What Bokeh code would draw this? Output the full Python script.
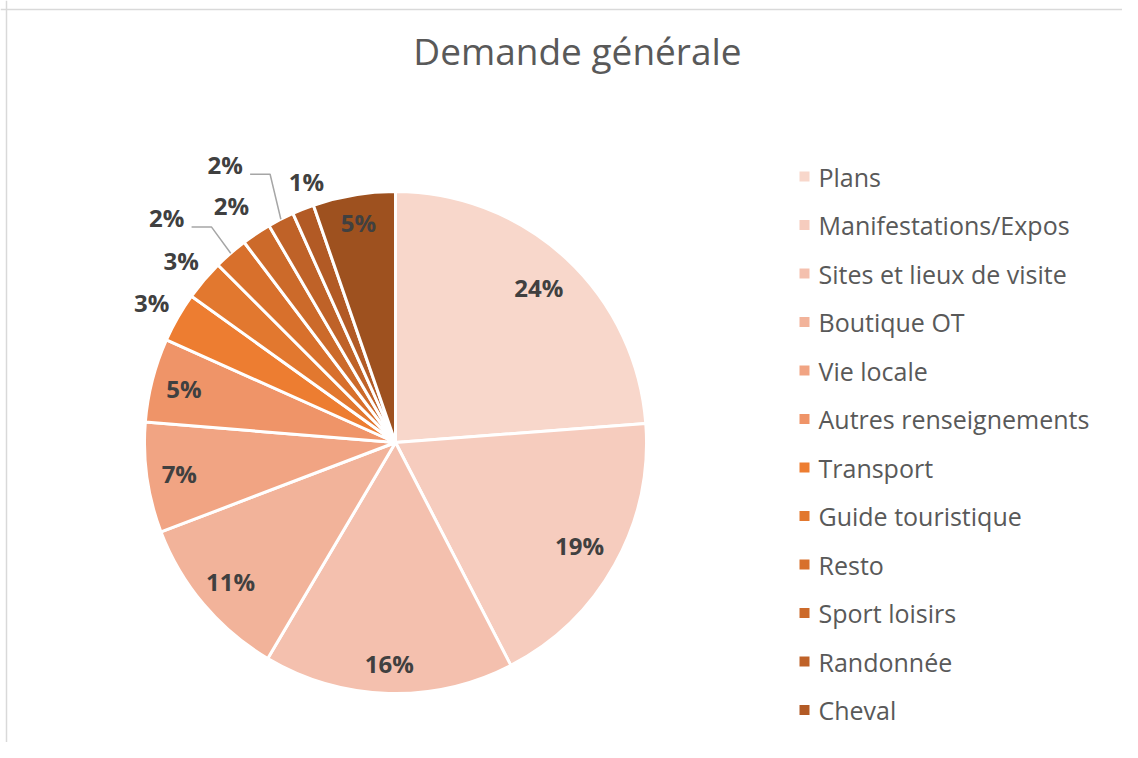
import math
from bokeh.plotting import figure
from bokeh.models import Range1d, Span, ColumnDataSource
from bokeh.core.properties import value
from bokeh.embed import file_html
from bokeh.resources import INLINE

# ---------------- data ----------------
title_text = "Demande générale"
categories = ["Plans", "Manifestations/Expos", "Sites et lieux de visite", "Boutique OT",
              "Vie locale", "Autres renseignements", "Transport", "Guide touristique",
              "Resto", "Sport loisirs", "Randonnée", "Cheval", "Autres"]
shares = [23.8, 18.6, 16.1, 10.7, 7.1, 5.4, 3.2, 2.6, 2.2, 1.9, 1.7, 1.4, 5.3]
colors = ["#F8D7CB", "#F6CCBE", "#F4C0AE", "#F2B39A", "#F1A483", "#EF9468",
          "#ED7D31", "#E2782F", "#D8702C", "#CC6A2A", "#BF6228", "#B25A25", "#9E511F"]
legend_count = 12  # entries visible in legend

# ---------------- label layout (style) ----------------
# (radius factor, angle offset in degrees, leader line)
label_style = [(0.84, 0, False), (0.84, 0, False), (0.88, 0, False), (0.86, 0, False),
               (0.87, 0, False), (0.87, 0, False), (1.12, 0, False), (1.12, 0, False),
               (1.28, -4.4, True), (1.15, -1, False), (1.30, -4.3, True), (1.10, 2.8, False),
               (0.89, 0, False)]

W, H = 1122, 742
FONT = "Open Sans"
def sx(x):
    return x
def sy(y):
    return H - y

cx, cy, R = sx(395), sy(442), 251

p = figure(width=W, height=H, x_range=Range1d(0, W), y_range=Range1d(0, H),
           min_border=0, toolbar_location=None, output_backend="svg",
           x_axis_location=None, y_axis_location=None)
p.grid.visible = False
p.outline_line_color = None
p.background_fill_color = "white"
p.border_fill_color = "white"

# chart border (top & left visible)
p.add_layout(Span(location=sy(9), dimension="width", line_color="#D9D9D9", line_width=1.5))
p.add_layout(Span(location=sx(6), dimension="height", line_color="#D9D9D9", line_width=1.5))

total = sum(shares)
starts, ends, mids = [], [], []
c = 0.0
for v in shares:
    f0 = c / total
    c += v
    f1 = c / total
    starts.append(math.pi / 2 - 2 * math.pi * f0)
    ends.append(math.pi / 2 - 2 * math.pi * f1)
    mids.append((f0 + f1) / 2 * 360.0)  # degrees clockwise from top

src = ColumnDataSource(dict(start=starts, end=ends, color=colors, cat=categories))
p.wedge(x=cx, y=cy, radius=R, start_angle="start", end_angle="end", direction="clock",
        fill_color="color", line_color="white", line_width=3, source=src)

# data labels
lx, ly, lt = [], [], []
for v, m, (fac, off, leader) in zip(shares, mids, label_style):
    a = math.radians(m + off)
    x = cx + fac * R * math.sin(a)
    y = cy + fac * R * math.cos(a)
    lx.append(x)
    ly.append(y)
    lt.append(f"{round(v)}%")
    if leader:
        am = math.radians(m)
        rx = cx + R * math.sin(am)
        ry = cy + R * math.cos(am)
        p.line([x + 25, x + 45, rx], [y - 10, y - 10, ry], line_color="#A6A6A6", line_width=1.5)

p.text(x=lx, y=ly, text=lt, text_font=value(FONT), text_font_size="24px",
       text_font_style="bold", text_align="center", text_baseline="middle",
       text_color="#404040")

# title
p.text(x=[sx(577)], y=[sy(50)], text=[title_text], text_font=value(FONT),
       text_font_size="37px", text_align="center", text_baseline="middle",
       text_color="#595959")

# legend (manual)
step = 48.5
leg_y = [sy(176 + step * i) for i in range(legend_count)]
p.scatter(x=[sx(804)] * legend_count, y=leg_y, marker="square", size=10,
          fill_color=colors[:legend_count], line_color=None)
p.text(x=[sx(818)] * legend_count, y=leg_y, text=categories[:legend_count],
       text_font=value(FONT), text_font_size="25px", text_align="left",
       text_baseline="middle", text_color="#595959")

open("out.html", "w").write(file_html(p, INLINE))
